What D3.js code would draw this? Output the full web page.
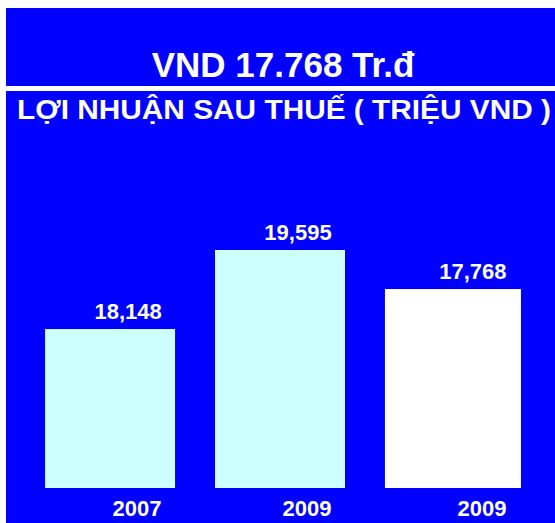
<!DOCTYPE html>
<html>
<head>
<meta charset="utf-8">
<script src="https://cdn.jsdelivr.net/npm/d3@7"></script>
<style>
  body { margin: 0; background: #fff; }
  text { font-family: "Liberation Sans", Arial, sans-serif; font-weight: bold; fill: #fff; }
</style>
</head>
<body>
<svg width="555" height="523"></svg>
<script>
  var title = "VND 17.768 Tr.đ";
  var subtitle = "LỢI NHUẬN SAU THUẾ ( TRIỆU VND )";

  var years = ["2007", "2009", "2009 "];
  var values = [18148, 19595, 17768];
  // bar heights as drawn in the picture (third bar is drawn taller than its label says)
  var barLevels = [18148, 19595, 18880];
  var barColors = ["#ccffff", "#ccffff", "#ffffff"];

  var svg = d3.select("svg");
  var blue = "#0000ff";

  // header box, white strip, chart box
  svg.append("rect").attr("x", 6).attr("y", 8).attr("width", 549).attr("height", 78).attr("fill", blue);
  svg.append("rect").attr("x", 6).attr("y", 91).attr("width", 549).attr("height", 432).attr("fill", blue);

  svg.append("text")
      .attr("x", 283).attr("y", 77)
      .attr("text-anchor", "middle")
      .style("font-size", "35px")
      .text(title);

  svg.append("text")
      .attr("x", 17).attr("y", 119)
      .attr("textLength", 534)
      .attr("lengthAdjust", "spacingAndGlyphs")
      .style("font-size", "27px")
      .text(subtitle);

  var x = d3.scaleBand()
      .domain(years)
      .range([25, 535])
      .paddingInner(0.235)
      .paddingOuter(0.118);

  var y = d3.scaleLinear()
      .domain([15238, 19595])
      .range([488, 250]);

  var g = svg.append("g");

  g.selectAll("rect.bar")
      .data(years)
      .enter()
      .append("rect")
      .attr("class", "bar")
      .attr("x", function(d) { return x(d); })
      .attr("y", function(d, i) { return y(barLevels[i]); })
      .attr("width", function(d, i) { return x.bandwidth() + (i === 2 ? 6 : 0); })
      .attr("height", function(d, i) { return y.range()[0] - y(barLevels[i]); })
      .attr("fill", function(d, i) { return barColors[i]; });

  g.selectAll("text.val")
      .data(years)
      .enter()
      .append("text")
      .attr("class", "val")
      .attr("x", function(d, i) { return x(d) + x.bandwidth() / 2 + (i === 2 ? 23 : 18); })
      .attr("y", function(d, i) { return y(barLevels[i]) - 10; })
      .attr("text-anchor", "middle")
      .style("font-size", "22px")
      .text(function(d, i) { return d3.format(",")(values[i]); });

  g.selectAll("text.year")
      .data(years)
      .enter()
      .append("text")
      .attr("class", "year")
      .attr("x", function(d, i) { return x(d) + x.bandwidth() / 2 + (i === 2 ? 32 : 27); })
      .attr("y", 516)
      .attr("text-anchor", "middle")
      .style("font-size", "22px")
      .text(function(d) { return d.trim(); });
</script>
</body>
</html>
